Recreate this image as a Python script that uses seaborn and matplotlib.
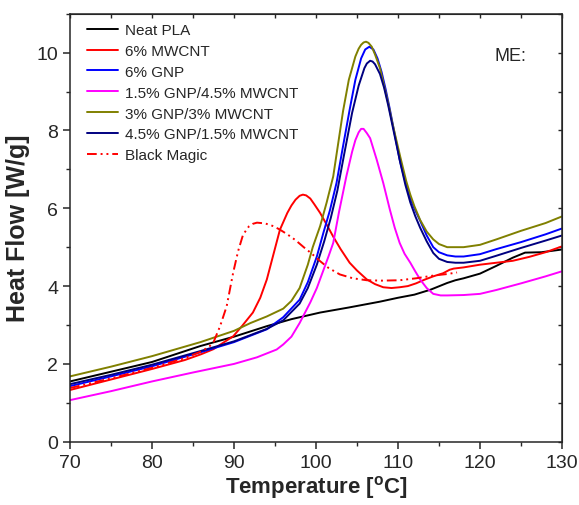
import numpy as np
import pandas as pd
import seaborn as sns
import matplotlib.pyplot as plt
from matplotlib.ticker import MultipleLocator, AutoMinorLocator

# DSC traces (temperature in C, heat flow in W/g)
T_PLA = [70, 75, 80, 85.9, 90, 94, 97, 100.5, 104, 107.8, 110, 112, 114, 116, 117, 118,
         120, 122, 124, 125.5, 127.5, 130]
H_PLA = [1.55, 1.8, 2.05, 2.46, 2.7, 2.97, 3.15, 3.32, 3.45, 3.6, 3.7, 3.78, 3.91, 4.08, 4.15, 4.2,
         4.32, 4.52, 4.73, 4.86, 4.87, 4.94]

T_MWCNT = [70, 75, 80, 84, 86, 87.5, 88.5, 89.9, 91, 92.3, 93.2, 94, 95, 95.6, 96.5, 97, 97.5, 98, 98.4, 98.8,
           99.3, 99.8, 100.5, 101.3, 102.1, 103, 104.1, 105, 106.2, 107.2, 108.2, 109.2, 110.2, 111.2,
           112.2, 113.3, 114.3, 115.5, 116.3, 116.8, 118, 120, 122, 124, 126, 128, 130]
H_MWCNT = [1.33, 1.6, 1.87, 2.1, 2.25, 2.38, 2.52, 2.71, 2.98, 3.32, 3.7, 4.17, 4.97, 5.45, 5.88, 6.07, 6.22, 6.32, 6.35, 6.33,
           6.25, 6.1, 5.88, 5.58, 5.27, 4.95, 4.6, 4.4, 4.17, 4.05, 3.97, 3.95, 3.97, 4.0,
           4.07, 4.17, 4.25, 4.33, 4.42, 4.45, 4.48, 4.55, 4.6, 4.65, 4.75, 4.87, 5.02]

T_GNP = [70, 75, 80, 85.9, 90, 94, 96, 98, 99, 100.1, 100.9, 101.7, 102.5, 103.3, 104.1,
         104.8, 105.5, 106, 106.5, 107, 107.5, 108, 108.5, 109, 109.6, 110.2, 110.8, 111.5, 112.1, 112.7,
         113.5, 114.3, 115, 116, 117, 118, 120, 122, 125, 128, 130]
H_GNP = [1.43, 1.68, 1.94, 2.3, 2.56, 2.89, 3.2, 3.65, 4.1, 4.76, 5.37, 5.95, 6.65, 7.6, 8.53,
         9.3, 9.85, 10.08, 10.15, 10.08, 9.85, 9.5, 9.05, 8.55, 7.9, 7.25, 6.75, 6.25, 5.95, 5.68,
         5.3, 5.0, 4.87, 4.79, 4.76, 4.76, 4.82, 4.95, 5.13, 5.33, 5.48]

T_15GNP = [70, 75, 80, 85, 90, 92.8, 95.2, 96, 97, 98, 99.3, 100.1, 100.8, 101.5, 102.1,
           102.8, 103.7, 104.4, 104.8, 105.2, 105.5, 105.8, 106.2, 106.6, 107.4, 108.2, 109, 109.6, 110.2,
           110.8, 111.5, 112.1, 112.7, 113.5, 114.3, 115.2, 116, 118, 120, 122, 125, 128, 130]
H_15GNP = [1.07, 1.3, 1.55, 1.78, 2.0, 2.17, 2.37, 2.5, 2.7, 3.05, 3.58, 3.95, 4.35, 4.75, 5.11,
           5.9, 6.82, 7.45, 7.75, 7.95, 8.04, 8.04, 7.93, 7.8, 7.25, 6.65, 5.97, 5.5, 5.11,
           4.83, 4.6, 4.38, 4.17, 3.95, 3.8, 3.76, 3.76, 3.77, 3.8, 3.9, 4.07, 4.25, 4.38]

T_3GNP = [70, 75, 80, 85.9, 90, 92, 94, 96, 97, 98, 99, 99.6, 100.5, 101.3, 102.1,
          102.8, 103.3, 104, 104.8, 105.2, 105.5, 105.8, 106.1, 106.4, 106.8, 107.2, 107.8, 108.3, 108.8, 109.3,
          109.8, 110.3, 111, 111.5, 112, 112.7, 113.5, 114.3, 115, 116, 118, 120, 122, 125, 128, 130]
H_3GNP = [1.68, 1.93, 2.2, 2.56, 2.85, 3.05, 3.22, 3.42, 3.62, 3.95, 4.55, 5.0, 5.54, 6.15, 6.82,
          7.8, 8.5, 9.3, 9.9, 10.1, 10.2, 10.26, 10.28, 10.25, 10.15, 9.95, 9.6, 9.15, 8.7, 8.2,
          7.75, 7.3, 6.7, 6.35, 6.05, 5.7, 5.4, 5.2, 5.08, 5.0, 5.0, 5.06, 5.2, 5.42, 5.62, 5.79]

T_45GNP = [70, 75, 80, 85.9, 90, 94, 96, 98, 99, 100.1, 101, 101.8, 102.6, 103.4, 104.4,
           105.2, 105.9, 106.2, 106.6, 106.9, 107.2, 107.8, 108.3, 108.8, 109.3, 109.8, 110.3, 110.9, 111.5, 112.1,
           112.7, 113.5, 114.3, 115, 116, 117, 118, 120, 122, 125, 128, 130]
H_45GNP = [1.48, 1.72, 1.98, 2.33, 2.58, 2.9, 3.12, 3.55, 3.95, 4.55, 5.15, 5.75, 6.45, 7.35, 8.45,
           9.15, 9.6, 9.72, 9.79, 9.77, 9.7, 9.45, 9.1, 8.65, 8.15, 7.65, 7.15, 6.6, 6.15, 5.8,
           5.5, 5.15, 4.85, 4.7, 4.62, 4.6, 4.6, 4.65, 4.78, 4.98, 5.17, 5.3]

T_BM = [70, 75, 80, 84, 86, 87, 87.5, 88.3, 89.1, 89.9, 90.5, 91.1, 91.8, 92.3, 92.8, 93.8,
        94.8, 95.6, 96.5, 97.5, 98.5, 99.5, 100.5, 101.5, 102.9, 104.5, 106.2, 108, 110.2, 112.2, 114.3,
        116, 117.2]
H_BM = [1.38, 1.63, 1.9, 2.15, 2.32, 2.45, 2.56, 2.97, 3.48, 4.35, 4.9, 5.32, 5.53, 5.6, 5.63, 5.61,
        5.54, 5.45, 5.33, 5.18, 5.0, 4.83, 4.64, 4.47, 4.3, 4.2, 4.15, 4.14, 4.15, 4.2, 4.27,
        4.31, 4.35]

SERIES = [
    ("Neat PLA", T_PLA, H_PLA, "#000000", "-"),
    ("6% MWCNT", T_MWCNT, H_MWCNT, "#ff0000", "-"),
    ("6% GNP", T_GNP, H_GNP, "#0000ff", "-"),
    ("1.5% GNP/4.5% MWCNT", T_15GNP, H_15GNP, "#ff00ff", "-"),
    ("3% GNP/3% MWCNT", T_3GNP, H_3GNP, "#808000", "-"),
    ("4.5% GNP/1.5% MWCNT", T_45GNP, H_45GNP, "#000080", "-"),
    ("Black Magic", T_BM, H_BM, "#ff0000", (0, (5, 2, 1, 2, 1, 2))),
]

sns.set_style("ticks")
plt.rcParams["font.family"] = ["Liberation Sans", "DejaVu Sans"]
plt.rcParams["mathtext.default"] = "regular"

fig, ax = plt.subplots(figsize=(5.79, 5.06), dpi=100)
fig.subplots_adjust(left=0.121, right=0.9706, bottom=0.125, top=0.971)

for name, t, h, color, ls in SERIES:
    df = pd.DataFrame({"T": t, "H": h})
    sns.lineplot(data=df, x="T", y="H", color=color, linestyle=ls, linewidth=1.4,
                 label=name, ax=ax, sort=False)

ax.set_xlim(70, 130)
ax.set_ylim(0, 11)
ax.xaxis.set_major_locator(MultipleLocator(10))
ax.xaxis.set_minor_locator(MultipleLocator(5))
ax.yaxis.set_major_locator(MultipleLocator(2))
ax.yaxis.set_minor_locator(AutoMinorLocator(2))

for side in ax.spines.values():
    side.set_linewidth(1.1)
ax.tick_params(which="major", direction="out", length=5, width=1.1, labelsize=14)
ax.tick_params(which="minor", direction="out", length=3, width=1.0)

# mirrored inward ticks on top and right
top = ax.secondary_xaxis("top")
top.xaxis.set_major_locator(MultipleLocator(5))
top.tick_params(direction="in", length=3, width=1.0, labeltop=False)
right = ax.secondary_yaxis("right")
right.yaxis.set_major_locator(MultipleLocator(1))
right.tick_params(direction="in", length=3, width=1.0, labelright=False)

ax.set_xlabel("Temperature [$^{o}$C]", fontsize=16, fontweight="bold", labelpad=2)
ax.set_ylabel("Heat Flow [W/g]", fontsize=18, fontweight="bold", labelpad=5)

ax.text(123.7, 9.92, "ME:", fontsize=13, ha="center", va="center")

ax.legend(loc="upper left", bbox_to_anchor=(0.035, 0.978), frameon=False, fontsize=11,
          handlelength=2.0, handletextpad=0.45, labelspacing=0.45, borderpad=0, borderaxespad=0)

plt.savefig("out.png", dpi=100)
plt.close()
